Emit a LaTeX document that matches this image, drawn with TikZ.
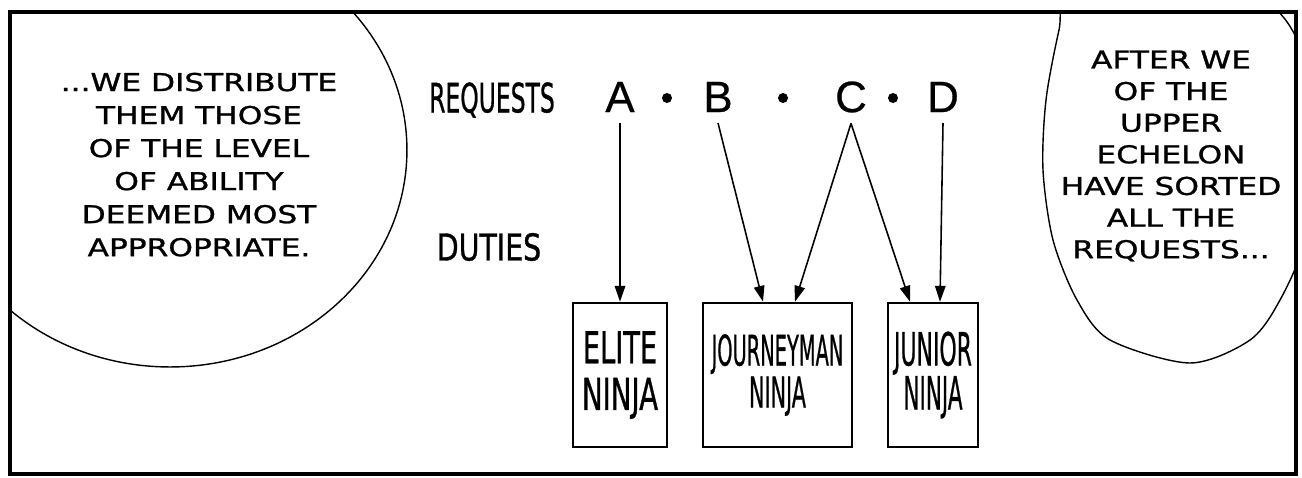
\documentclass[tikz,border=0pt]{standalone}
\usepackage{fontspec}
\usepackage{graphicx}
\setmainfont[FakeBold=1]{DejaVu Sans}
\newfontfamily\letterfont[FakeBold=0.6]{Liberation Sans}
\usetikzlibrary{arrows.meta,calc}
\newcommand{\widetext}[1]{\scalebox{1.27}[1]{\begin{tabular}{@{}c@{}}#1\end{tabular}}}
\tikzset{
  bubble/.style={line width=0.8pt},
  speech/.style={inner sep=0pt, font=\fontsize{14}{18.8}\selectfont},
  rowname/.style={inner sep=0pt},
  request/.style={inner sep=6pt, font=\letterfont\fontsize{25}{28}\selectfont},
  duty/.style={draw, line width=1.5pt, inner sep=0pt, align=center, minimum height=2.88cm},
  assign/.style={-{Triangle[length=9pt,width=6pt]}, line width=0.9pt},
}
\begin{document}
\begin{tikzpicture}[x=0.02cm, y=-0.02cm]
  \useasboundingbox (0,0) rectangle (1302,477);
  \begin{scope}
    \clip (10,12) rectangle (1296,474);
    \draw[bubble] (170,150) ellipse [x radius=4.74cm, y radius=4.34cm];
    \draw[bubble] plot[smooth cycle] coordinates {(1072,-15) (1059,30) (1046,100) (1043,170) (1053,240) (1077,300) (1110,340) (1190,363) (1250,340) (1280,300) (1305,240) (1315,150) (1305,60) (1270,5) (1180,-20)};
  \end{scope}
  \draw[line width=2.2pt] (10,12) rectangle (1296,474);

  \node[speech] (lefttext) at (199,167) {\widetext{...WE DISTRIBUTE\\THEM THOSE\\OF THE LEVEL\\OF ABILITY\\DEEMED MOST\\APPROPRIATE.}};
  \node[speech, font=\fontsize{14}{18}\selectfont] (righttext) at (1171,157) {\widetext{AFTER WE\\OF THE\\UPPER\\ECHELON\\HAVE SORTED\\ALL THE\\REQUESTS...}};

  \node[rowname, font=\fontsize{23}{23}\selectfont] (requests) at (492,100) {\scalebox{0.58}[1]{REQUESTS}};
  \node[rowname, font=\fontsize{21}{21}\selectfont] (duties) at (489,247) {\scalebox{0.77}[1]{DUTIES}};

  \node[request] (A) at (620,97) {A};
  \node[request] (B) at (718,97) {B};
  \node[request] (C) at (851,97) {C};
  \node[request] (D) at (943,97) {D};
  \foreach \x in {667,783,893}
    \fill (\x,98) circle [radius=0.1cm];

  \node[duty, minimum width=1.88cm, font=\fontsize{25}{26.6}\selectfont] (elite) at (620,375) {\scalebox{0.62}[1]{ELITE}\\\scalebox{0.63}[1]{NINJA}};
  \node[duty, minimum width=2.98cm, font=\fontsize{24}{23.8}\selectfont] (journey) at (777.5,375) {\scalebox{0.46}[1]{JOURNEYMAN}\\\scalebox{0.49}[1]{NINJA}};
  \node[duty, minimum width=1.8cm, font=\fontsize{26}{25}\selectfont] (junior) at (933,375) {\scalebox{0.48}[1]{JUNIOR}\\\scalebox{0.47}[1]{NINJA}};

  \coordinate (jb) at ($(journey.north)+(-14.5,0)$);
  \coordinate (jc) at ($(journey.north)+(17.5,0)$);
  \coordinate (uc) at ($(junior.north)+(-23,0)$);
  \coordinate (ud) at ($(junior.north)+(7,0)$);
  \draw[assign] (A) -- (elite);
  \draw[assign] (B.south) -- (jb);
  \draw[assign] (C.south) -- (jc);
  \draw[assign] (C.south) -- (uc);
  \draw[assign] (D.south) -- (ud);
\end{tikzpicture}
\end{document}
